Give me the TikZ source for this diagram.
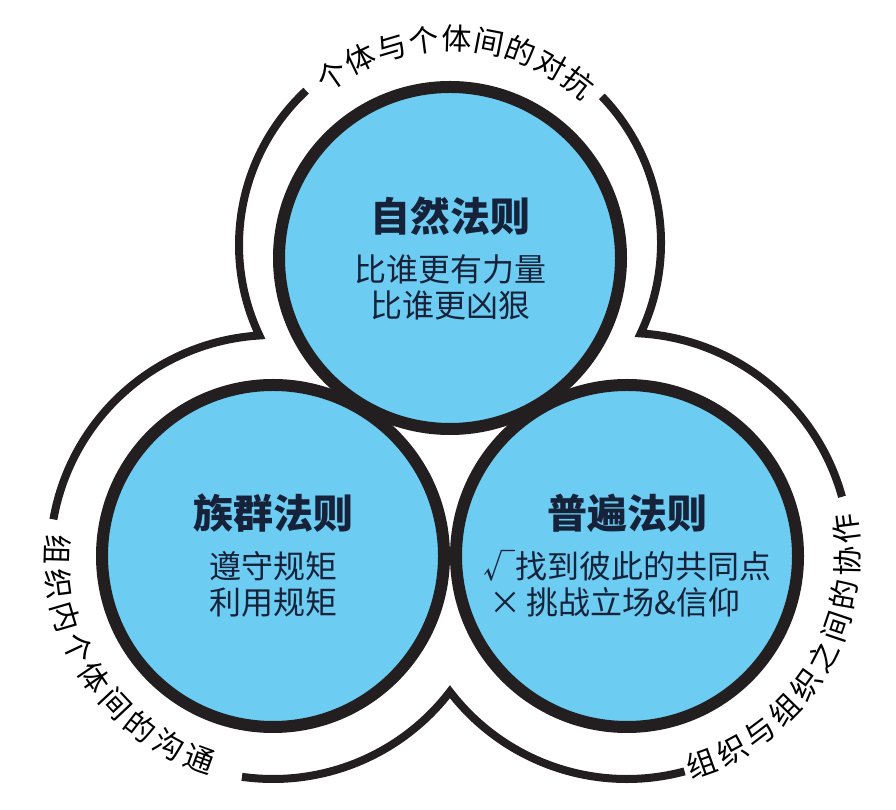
\documentclass[tikz,border=0pt]{standalone}
\usepackage{fontspec}
\setmainfont{Noto Sans CJK SC}
\usepackage{tikz}
\usetikzlibrary{decorations.text}

\definecolor{lawblue}{RGB}{108,204,242}
\definecolor{ink}{RGB}{35,31,32}
\definecolor{lawtext}{RGB}{22,34,58}
\newcommand{\rimfont}{\fontsize{30}{30}\selectfont}
\newcommand{\lawtitle}[1]{{\fontsize{40}{44}\selectfont\bfseries #1}}

\tikzset{
    law/.style={circle, fill=lawblue, minimum size=342pt, inner sep=0pt, align=center, text=lawtext, font=\fontsize{32}{36}\selectfont},
    ring/.style={draw=ink, line width=12pt},
    rim/.style={draw=ink, line width=8pt, line join=miter},
    rimtext/.style={decorate, decoration={text along path, text align={fit to path}, raise=-11pt, text={|\rimfont|#1}}},
}

\begin{document}
\begin{tikzpicture}[x=1pt, y=1pt]
    \useasboundingbox (0,0) rectangle (896,810);

    % the three laws
    \node[law] (nature) at (450,552) {\lawtitle{自然法则}\\[14pt]比谁更有力量\\比谁更凶狠};
    \node[law] (clan) at (273,254) {\lawtitle{族群法则}\\[14pt]遵守规矩\\利用规矩};
    \node[law] (universal) at (627,254) {\lawtitle{普遍法则}\\[14pt]√找到彼此的共同点\\×\,挑战立场\&信仰\hspace*{24pt}};
    \foreach \c in {nature, clan, universal}
        \draw[ring] (\c.center) circle[radius=171];

    % outer rim, broken where the labels sit
    \draw[rim] (nature.center) ++(0,13) ++(133:211) arc[start angle=133, end angle=205.4, radius=211]
        arc[start angle=93.5, end angle=170, radius=223];
    \draw[rim] (clan.center) ++(262:223) arc[start angle=262, end angle=322.5, radius=223]
        arc[start angle=217.5, end angle=285, radius=223];
    \draw[rim] (universal.center) ++(15.4:223) arc[start angle=15.4, end angle=86.5, radius=223]
        arc[start angle=334.6, end angle=404, radius=211];

    % rim labels
    \path[rimtext={个体与个体间的对抗}] (nature.center) ++(0,13) ++(129:206) arc[start angle=129, end angle=47.5, radius=206];
    \path[rimtext={组织内个体间的沟通}] (clan.center) ++(174.5:216) arc[start angle=174.5, end angle=254, radius=216];
    \path[rimtext={组织与组织之间的协作}] (universal.center) ++(286:221) arc[start angle=286, end angle=371, radius=221];
\end{tikzpicture}
\end{document}
